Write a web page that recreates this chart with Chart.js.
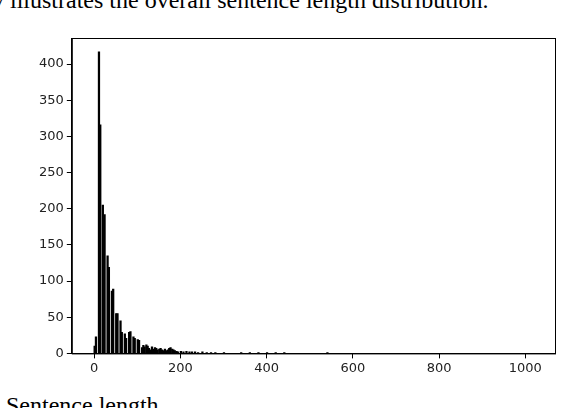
<!DOCTYPE html>
<html>
<head>
<meta charset="utf-8">
<script src="https://cdn.jsdelivr.net/npm/chart.js@4"></script>
<style>
  body { margin: 0; background: #fff; width: 564px; height: 408px; position: relative; overflow: hidden; }
  .txt { position: absolute; font-family: "Liberation Serif", serif; font-size: 24px; color: #000; white-space: nowrap; }
  #chart { position: absolute; left: 0; top: 0; }
</style>
</head>
<body>
<div class="txt" style="left:-8px;top:-13px">v illustrates the overall sentence length distribution.</div>
<div class="txt" style="left:6px;top:392px">Sentence length</div>
<canvas id="chart" width="564" height="408"></canvas>
<script>
// sentence lengths (bin positions) and counts
const lengths = [1, 4, 11, 14, 20, 24, 31, 34, 41, 44, 51, 54, 61, 64, 71, 74, 81, 84, 91, 94, 101, 104,
  111, 114, 117, 121, 124, 127, 131, 134, 137, 141, 144, 147, 151, 154, 157, 161, 164, 167, 171, 174, 177,
  181, 184, 187, 191, 194, 201, 207, 214, 221, 227, 234, 241, 251, 261, 271, 281, 301, 341, 361, 381, 401, 421, 441, 541];
const counts = [10, 23, 417, 316, 205, 192, 135, 119, 86, 89, 55, 55, 45, 29, 27, 21, 29, 30, 23, 21, 19, 18,
  8, 11, 9, 12, 10, 7, 5, 9, 6, 8, 7, 5, 6, 7, 5, 4, 6, 4, 5, 7, 8,
  6, 5, 4, 3, 2, 3, 2, 3, 2, 2, 2, 1, 2, 1, 1, 1, 1, 1, 1, 1, 1, 1, 1, 1];
const xTicks = [0, 200, 400, 600, 800, 1000];
const yTicks = [0, 50, 100, 150, 200, 250, 300, 350, 400];

const frame = {
  id: 'frame',
  afterDraw(chart) {
    const { ctx, chartArea: a } = chart;
    ctx.save();
    ctx.strokeStyle = '#000';
    ctx.lineWidth = 1;
    ctx.strokeRect(a.left + 0.5, a.top + 0.5, a.right - a.left, a.bottom - a.top);
    ctx.restore();
  }
};

const tickFont = { family: 'DejaVu Sans', size: 13 };

new Chart(document.getElementById('chart'), {
  type: 'bar',
  data: {
    datasets: [{
      data: lengths.map((x, i) => ({ x, y: counts[i] })),
      backgroundColor: '#000',
      barThickness: 1.6
    }]
  },
  options: {
    responsive: false,
    animation: false,
    devicePixelRatio: 1,
    layout: { padding: { left: 36, right: 9, top: 38, bottom: 30 } },
    plugins: { legend: { display: false }, tooltip: { enabled: false } },
    scales: {
      x: {
        type: 'linear', min: -52, max: 1069, offset: false,
        afterBuildTicks: s => { s.ticks = xTicks.map(v => ({ value: v })); },
        grid: { display: true, offset: false, drawOnChartArea: false, drawTicks: true, tickLength: 5, tickColor: '#000' },
        border: { color: '#000' },
        ticks: { color: '#222', font: tickFont, padding: 2, callback: v => String(v) }
      },
      y: {
        min: 0, max: 436,
        afterBuildTicks: s => { s.ticks = yTicks.map(v => ({ value: v })); },
        grid: { display: true, drawOnChartArea: false, drawTicks: true, tickLength: 5, tickColor: '#000' },
        border: { color: '#000' },
        ticks: { color: '#222', font: tickFont, padding: 3, callback: v => String(v) }
      }
    }
  },
  plugins: [frame]
});
</script>
</body>
</html>
